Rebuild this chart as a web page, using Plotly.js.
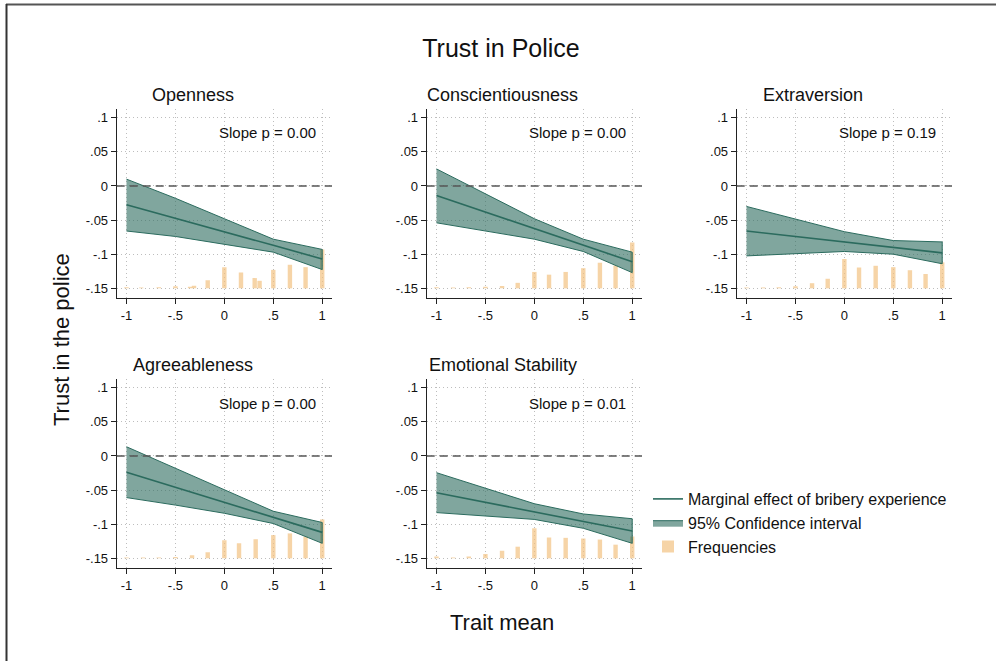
<!DOCTYPE html>
<html>
<head>
<meta charset="utf-8">
<script src="https://cdn.plot.ly/plotly-3.0.1.min.js"></script>
<style>html,body{margin:0;padding:0;background:#fff;}#chart{width:996px;height:661px;}</style>
</head>
<body>
<div id="chart"></div>
<script>
// ---------------- DATA ----------------
const traits = ["Openness", "Conscientiousness", "Extraversion", "Agreeableness", "Emotional Stability"];
const slopeP = ["0.00", "0.00", "0.19", "0.00", "0.01"];
const effectX = [-1, -0.5, 0, 0.5, 1];

const opennessMean  = [-0.0275, -0.047, -0.067, -0.087, -0.107];
const opennessUpper = [0.010, -0.018, -0.048, -0.078, -0.093];
const opennessLower = [-0.066, -0.074, -0.085, -0.097, -0.1225];

const conscMean  = [-0.014, -0.038, -0.062, -0.087, -0.111];
const conscUpper = [0.025, -0.012, -0.048, -0.078, -0.097];
const conscLower = [-0.054, -0.066, -0.078, -0.096, -0.127];

const extraMean  = [-0.066, -0.074, -0.082, -0.090, -0.098];
const extraUpper = [-0.030, -0.049, -0.067, -0.080, -0.082];
const extraLower = [-0.1025, -0.099, -0.096, -0.100, -0.114];

const agreeMean  = [-0.024, -0.046, -0.068, -0.090, -0.112];
const agreeUpper = [0.0135, -0.018, -0.050, -0.081, -0.0975];
const agreeLower = [-0.061, -0.072, -0.084, -0.099, -0.128];

const emoMean  = [-0.054, -0.068, -0.082, -0.096, -0.110];
const emoUpper = [-0.0245, -0.047, -0.070, -0.085, -0.092];
const emoLower = [-0.083, -0.088, -0.093, -0.106, -0.128];

// frequency bars: x positions and top (in y-axis units, drawn up from the -.15 baseline)
const freqBase = -0.15;
const opennessFreqX   = [-1, -0.85, -0.67, -0.5, -0.35, -0.31, -0.17, 0, 0.17, 0.31, 0.36, 0.5, 0.67, 0.83, 1];
const opennessFreqTop = [-0.1485, -0.1487, -0.1485, -0.147, -0.1478, -0.1462, -0.1383, -0.119, -0.127, -0.135, -0.139, -0.123, -0.1155, -0.119, -0.093];
const freqX = [-1, -0.83, -0.67, -0.5, -0.33, -0.17, 0, 0.15, 0.32, 0.5, 0.67, 0.83, 1];
const conscFreqTop = [-0.1485, -0.1487, -0.1485, -0.1476, -0.1466, -0.142, -0.126, -0.130, -0.126, -0.1205, -0.1125, -0.1165, -0.083];
const extraFreqTop = [-0.1487, -0.1487, -0.1485, -0.147, -0.1425, -0.136, -0.107, -0.1195, -0.117, -0.119, -0.1235, -0.129, -0.112];
const agreeFreqTop = [-0.1488, -0.1488, -0.1487, -0.148, -0.1455, -0.141, -0.1235, -0.128, -0.122, -0.116, -0.1135, -0.118, -0.093];
const emoFreqTop   = [-0.1475, -0.1487, -0.1472, -0.1435, -0.139, -0.133, -0.106, -0.1195, -0.120, -0.121, -0.1225, -0.130, -0.118];

const xTickVals = [-1, -0.5, 0, 0.5, 1];
const xTickText = ["-1", "-.5", "0", ".5", "1"];
const yTickVals = [0.1, 0.05, 0, -0.05, -0.1, -0.15];
const yTickText = [".1", ".05", "0", "-.05", "-.1", "-.15"];

const legendNames = ["Marginal effect of bribery experience", "95% Confidence interval", "Frequencies"];
const mainTitle = "Trust in Police";
const yTitle = "Trust in the police";
const xTitle = "Trait mean";

// ---------------- LAYOUT / DRAWING ----------------
const W = 996, H = 661;
const FONT = "Liberation Sans, Arial, Helvetica, sans-serif";
const lineColor = "#2b6b5e";
const bandColor = "rgba(43,107,94,0.6)";
const barColor = "rgba(242,192,126,0.68)";

const panels = [
  {mean: opennessMean, up: opennessUpper, lo: opennessLower, fx: opennessFreqX, ft: opennessFreqTop},
  {mean: conscMean, up: conscUpper, lo: conscLower, fx: freqX, ft: conscFreqTop},
  {mean: extraMean, up: extraUpper, lo: extraLower, fx: freqX, ft: extraFreqTop},
  {mean: agreeMean, up: agreeUpper, lo: agreeLower, fx: freqX, ft: agreeFreqTop},
  {mean: emoMean, up: emoUpper, lo: emoLower, fx: freqX, ft: emoFreqTop}
];

const colLeft = [116.7, 426.7, 736.7];
const plotW = 215.3;
const rowTop = [109, 379];
const plotH = 189;

const traces = [];
const layout = {
  width: W, height: H, autosize: false,
  margin: {l: 0, r: 0, t: 0, b: 0, pad: 0},
  paper_bgcolor: "#fff", plot_bgcolor: "#fff",
  font: {family: FONT, color: "#111", size: 13},
  title: {text: mainTitle, x: 501 / W, y: 1 - 48 / H, xref: "paper", yref: "paper",
          xanchor: "center", yanchor: "middle", font: {size: 25, family: FONT, color: "#111"}},
  showlegend: true,
  legend: {x: 648 / W, y: 1 - 482 / H, xanchor: "left", yanchor: "top",
           font: {size: 16, family: FONT, color: "#111"}, bgcolor: "rgba(0,0,0,0)",
           traceorder: "normal", itemwidth: 30, tracegroupgap: 0},
  annotations: [],
  shapes: []
};

panels.forEach((p, i) => {
  const row = i < 3 ? 0 : 1;
  const col = i < 3 ? i : i - 3;
  const xid = i === 0 ? "x" : "x" + (i + 1);
  const yid = i === 0 ? "y" : "y" + (i + 1);
  const xkey = i === 0 ? "xaxis" : "xaxis" + (i + 1);
  const ykey = i === 0 ? "yaxis" : "yaxis" + (i + 1);
  const x0 = colLeft[col], y0 = rowTop[row];

  const common = {
    showline: true, linecolor: "#222", linewidth: 1,
    ticks: "outside", ticklen: 5, tickcolor: "#222", tickwidth: 1,
    showgrid: true, gridcolor: "#bdbdbd", griddash: "1px,3px", gridwidth: 1,
    zeroline: false, tickfont: {size: 13, family: FONT, color: "#111"}, fixedrange: true
  };
  layout[xkey] = Object.assign({
    domain: [x0 / W, (x0 + plotW) / W], anchor: yid,
    range: [-1.1, 1.1], tickvals: xTickVals, ticktext: xTickText
  }, common);
  layout[ykey] = Object.assign({
    domain: [1 - (y0 + plotH) / H, 1 - y0 / H], anchor: xid,
    range: [-0.1642, 0.1128], tickvals: yTickVals, ticktext: yTickText
  }, common);

  const first = i === 0;
  // frequencies
  traces.push({
    type: "bar", x: p.fx, y: p.ft.map(v => v - freqBase), base: freqBase,
    width: 0.045, marker: {color: barColor, line: {width: 0}},
    xaxis: xid, yaxis: yid, name: legendNames[2], legendgroup: "freq",
    showlegend: first, legendrank: 3, hoverinfo: "skip"
  });
  // confidence band
  traces.push({
    type: "scatter", mode: "lines",
    x: effectX.concat(effectX.slice().reverse()),
    y: p.up.concat(p.lo.slice().reverse()),
    fill: "toself", fillcolor: bandColor, line: {color: lineColor, width: 1},
    xaxis: xid, yaxis: yid, name: legendNames[1], legendgroup: "ci",
    showlegend: first, legendrank: 2, hoverinfo: "skip"
  });
  // marginal effect
  traces.push({
    type: "scatter", mode: "lines", x: effectX, y: p.mean,
    line: {color: lineColor, width: 1.6},
    xaxis: xid, yaxis: yid, name: legendNames[0], legendgroup: "me",
    showlegend: first, legendrank: 1, hoverinfo: "skip"
  });

  // zero reference line
  layout.shapes.push({
    type: "line", xref: xid + " domain", yref: yid, x0: 0, x1: 1, y0: 0, y1: 0,
    line: {color: "#555", width: 1.5, dash: "8px,5px"}, layer: "above"
  });

  // subplot title
  layout.annotations.push({
    text: traits[i], xref: "paper", yref: "paper",
    x: (x0 + 76) / W, y: 1 - (y0 - 14) / H, xanchor: "center", yanchor: "middle",
    showarrow: false, font: {size: 18, family: FONT, color: "#111"}
  });
  // slope p annotation
  layout.annotations.push({
    text: "Slope p = " + slopeP[i], xref: "paper", yref: "paper",
    x: (x0 + 201.5) / W, y: 1 - (y0 + 24) / H, xanchor: "right", yanchor: "middle",
    showarrow: false, font: {size: 15, family: FONT, color: "#111"}
  });
});

// axis titles
layout.annotations.push({
  text: xTitle, xref: "paper", yref: "paper", x: 502 / W, y: 1 - 622 / H,
  xanchor: "center", yanchor: "middle", showarrow: false,
  font: {size: 22, family: FONT, color: "#111"}
});
layout.annotations.push({
  text: yTitle, xref: "paper", yref: "paper", x: 61 / W, y: 1 - 340 / H,
  xanchor: "center", yanchor: "middle", textangle: -90, showarrow: false,
  font: {size: 22, family: FONT, color: "#111"}
});

// outer frame (top and left edges visible in the reference)
layout.shapes.push({type: "line", xref: "paper", yref: "paper", x0: 6 / W, x1: 1.02, y0: 1 - 4.5 / H, y1: 1 - 4.5 / H,
  line: {color: "#555", width: 2}});
layout.shapes.push({type: "line", xref: "paper", yref: "paper", x0: 6.5 / W, x1: 6.5 / W, y0: -0.02, y1: 1 - 4 / H,
  line: {color: "#333", width: 2}});

Plotly.newPlot("chart", traces, layout, {displayModeBar: false, staticPlot: true});
</script>
</body>
</html>
